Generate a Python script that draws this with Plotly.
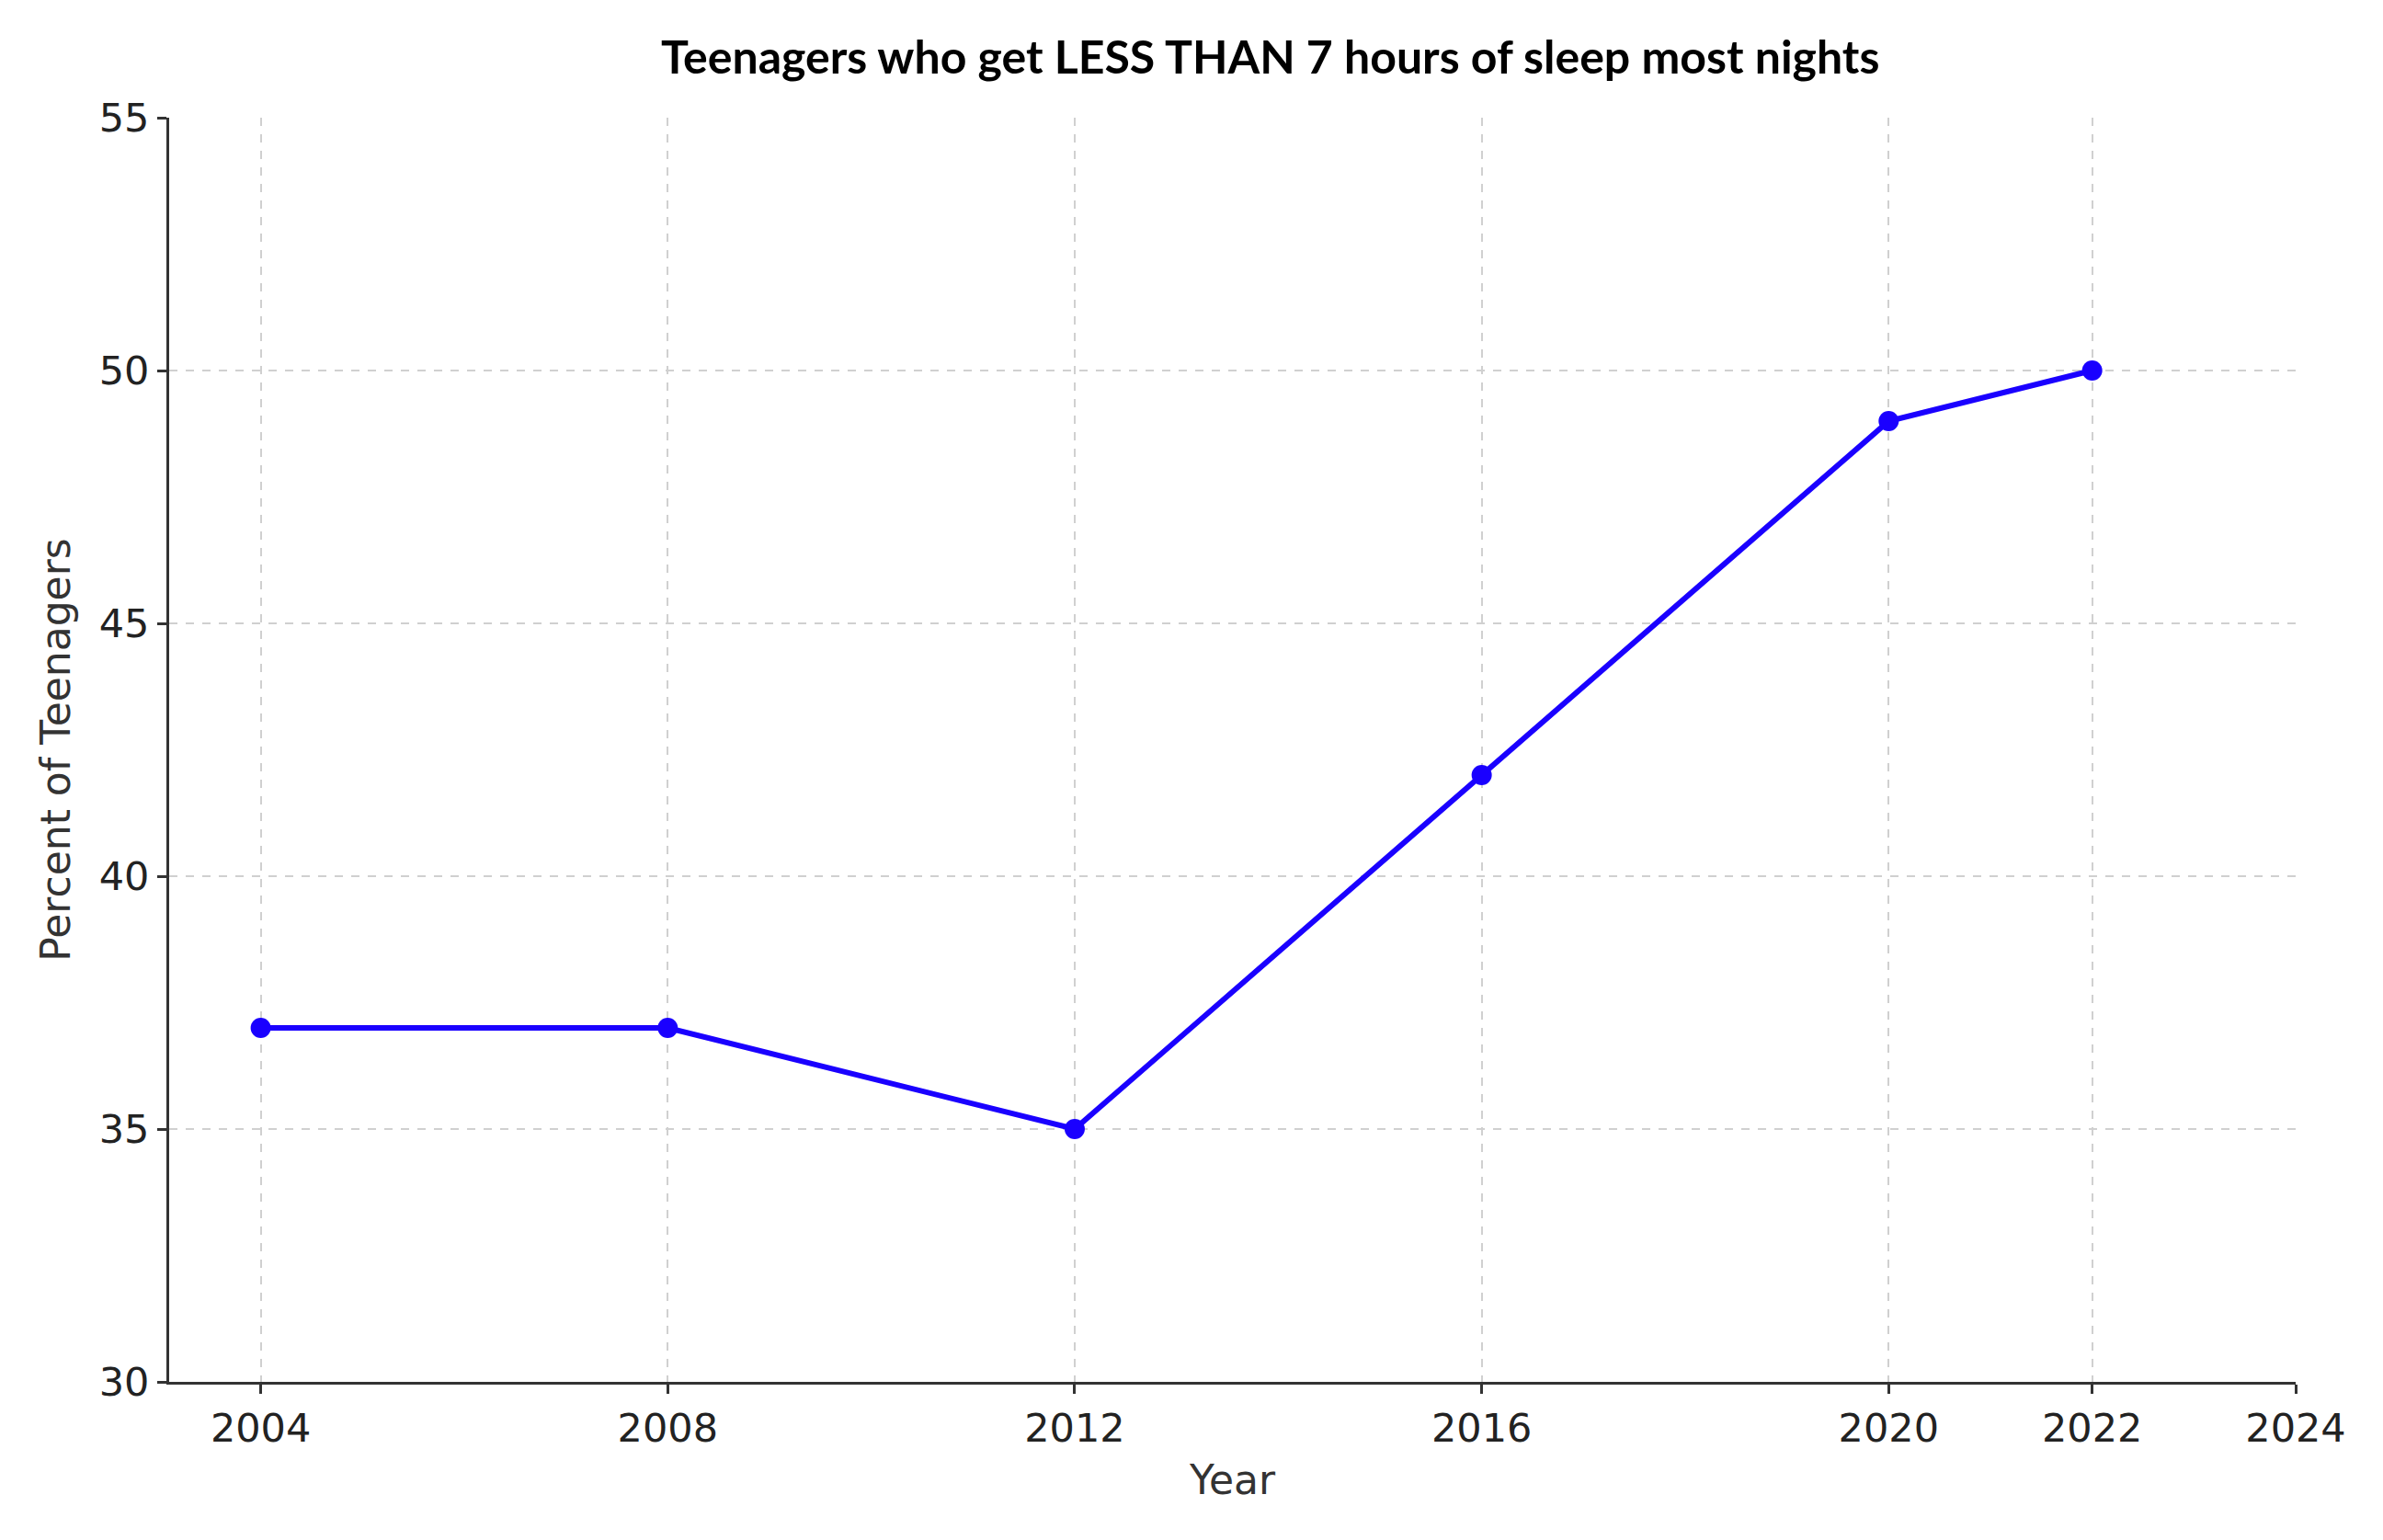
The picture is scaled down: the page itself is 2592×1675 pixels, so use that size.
import plotly.graph_objects as go

years = [2004, 2008, 2012, 2016, 2020, 2022]
percent = [37, 37, 35, 42, 49, 50]
x_ticks = [2004, 2008, 2012, 2016, 2020, 2022, 2024]
y_ticks = [30, 35, 40, 45, 50, 55]

fig = go.Figure(go.Scatter(
    x=years, y=percent, mode="lines+markers",
    line=dict(color="#1a00ff", width=6),
    marker=dict(color="#1a00ff", size=22),
))
grid = dict(showgrid=True, gridcolor="#d0d0d0", griddash="dash", gridwidth=2,
            showline=True, linecolor="#333", linewidth=3, ticks="outside",
            ticklen=10, tickwidth=3, tickcolor="#333", zeroline=False,
            tickfont=dict(family="DejaVu Sans", size=43, color="#222"))
fig.update_layout(
    width=2592, height=1675, paper_bgcolor="white", plot_bgcolor="white",
    margin=dict(l=176, r=103, t=120, b=180),
    showlegend=False,
    title=dict(text="<b>Teenagers who get LESS THAN 7 hours of sleep most nights</b>",
               x=0.53, xanchor="center", y=0.978, yanchor="top",
               font=dict(family="Lato", size=50, color="black")),
    xaxis=dict(range=[2003.1, 2024], tickvals=x_ticks,
               title=dict(text="Year", font=dict(family="DejaVu Sans", size=44, color="#333"), standoff=18), **grid),
    yaxis=dict(range=[30, 55], tickvals=y_ticks,
               title=dict(text="Percent of Teenagers", font=dict(family="DejaVu Sans", size=44, color="#333"), standoff=18), **grid),
)
fig.write_html("out.html")
